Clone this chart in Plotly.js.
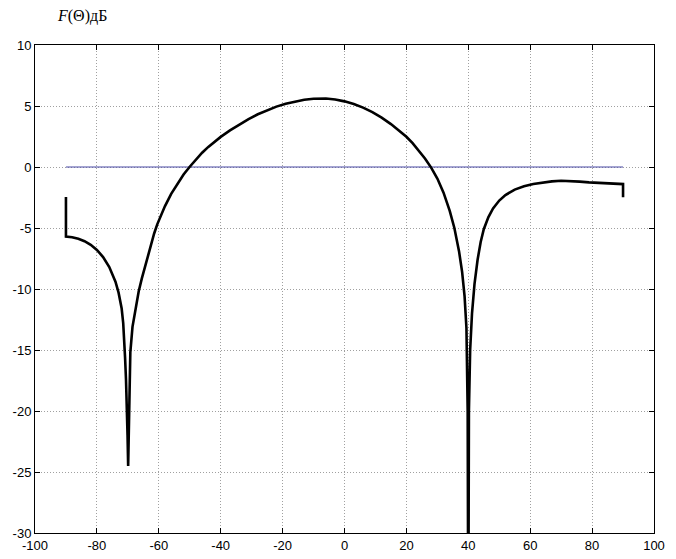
<!DOCTYPE html>
<html lang="ru">
<head>
  <meta charset="UTF-8">
  <title>F(Θ) дБ</title>
  <script src="https://cdn.plot.ly/plotly-3.0.1.min.js"></script>
  <style>
    html, body { margin: 0; padding: 0; background: #ffffff; }
    #chart { width: 676px; height: 559px; }
  </style>
</head>
<body>
  <div id="chart"></div>

  <script>
    // pattern: angle in degrees, level in dB
    const theta = [-90, -90, -88, -86, -84, -82, -80, -78, -76, -74, -73, -72, -71.5, -71.2, -70.9, -70.6, -70.3, -70.1, -69.9,
      -69.6, -69.2, -68.5, -67.5, -66.5, -65.5, -64.5, -63.5, -62.5, -61.5, -60.5, -59.5, -58, -56, -54, -52, -50,
      -48, -46, -44, -42, -40, -37, -34, -31, -28, -25, -22, -19, -16, -13, -10, -8, -6, -3, 0, 3, 6, 9, 12, 15,
      18, 20, 22, 24, 26, 28, 30, 32, 34, 35.5, 37, 38, 38.8, 39.4, 39.8, 40, 40.2, 40.6, 41.2, 42, 43, 44, 45,
      46.5, 48, 50, 52, 55, 58, 61, 64, 67, 70, 73, 76, 79, 82, 85, 88, 90, 90];
    const levelDb = [-2.45, -5.7, -5.76, -5.88, -6.08, -6.38, -6.8, -7.38, -8.2, -9.4, -10.3, -11.6, -12.8, -14.0, -15.6, -17.4, -19.6, -22, -24.5,
      -20, -15.2, -13.1, -11.45, -10.2, -9.15, -8.2, -7.3, -6.3, -5.45, -4.7, -4.05, -3.2, -2.2, -1.35, -0.62, 0.02,
      0.62, 1.17, 1.65, 2.08, 2.47, 3.0, 3.5, 3.93, 4.32, 4.66, 4.95, 5.19, 5.38, 5.51, 5.59, 5.62, 5.61, 5.53, 5.38, 5.16, 4.87, 4.5, 4.05, 3.52,
      2.92, 2.48, 1.95, 1.35, 0.7, -0.05, -0.95, -2.1, -3.6, -5.0, -6.9, -8.6, -10.6, -13.2, -20, -40, -20, -15.0, -12.0, -9.6, -7.6, -6.15, -5.1,
      -4.1, -3.4, -2.75, -2.3, -1.85, -1.58, -1.4, -1.27, -1.18, -1.13, -1.14, -1.2, -1.26, -1.3, -1.33, -1.37, -1.4, -2.48];

    // 0 dB reference line
    const refTheta = [-90, 90];
    const refLevel = [0, 0];

    const xTicks = [-100, -80, -60, -40, -20, 0, 20, 40, 60, 80, 100];
    const yTicks = [-30, -25, -20, -15, -10, -5, 0, 5, 10];

    const axisStyle = {
      showline: true,
      linecolor: '#000000',
      linewidth: 1,
      mirror: 'ticks',
      ticks: 'inside',
      ticklen: 5,
      tickcolor: '#000000',
      showgrid: true,
      gridcolor: '#a0a0a0',
      griddash: '1px,2px',
      gridwidth: 1,
      zeroline: false,
      tickfont: { family: 'Arial, Liberation Sans, sans-serif', size: 13, color: '#000000' }
    };

    const data = [
      {
        x: refTheta, y: refLevel, type: 'scatter', mode: 'lines',
        line: { color: '#4848a4', width: 1 }, hoverinfo: 'skip'
      },
      {
        x: theta, y: levelDb, type: 'scatter', mode: 'lines',
        line: { color: '#000000', width: 2.6 }
      }
    ];

    const layout = {
      width: 676,
      height: 559,
      margin: { l: 35, r: 22, t: 45, b: 26 },
      paper_bgcolor: '#ffffff',
      plot_bgcolor: '#ffffff',
      showlegend: false,
      xaxis: Object.assign({}, axisStyle, {
        range: [-100, 100], tickvals: xTicks, ticktext: xTicks.map(String)
      }),
      yaxis: Object.assign({}, axisStyle, {
        range: [-30, 10], tickvals: yTicks, ticktext: yTicks.map(String)
      }),
      annotations: [{
        text: '<i>F</i>(Θ)дБ',
        xref: 'paper', yref: 'paper',
        x: 0.032, y: 1.06,
        xanchor: 'left', yanchor: 'middle',
        showarrow: false,
        font: { family: 'Times New Roman, Liberation Serif, serif', size: 16, color: '#000000' }
      }]
    };

    Plotly.newPlot('chart', data, layout, { displayModeBar: false, staticPlot: true });
  </script>
</body>
</html>
